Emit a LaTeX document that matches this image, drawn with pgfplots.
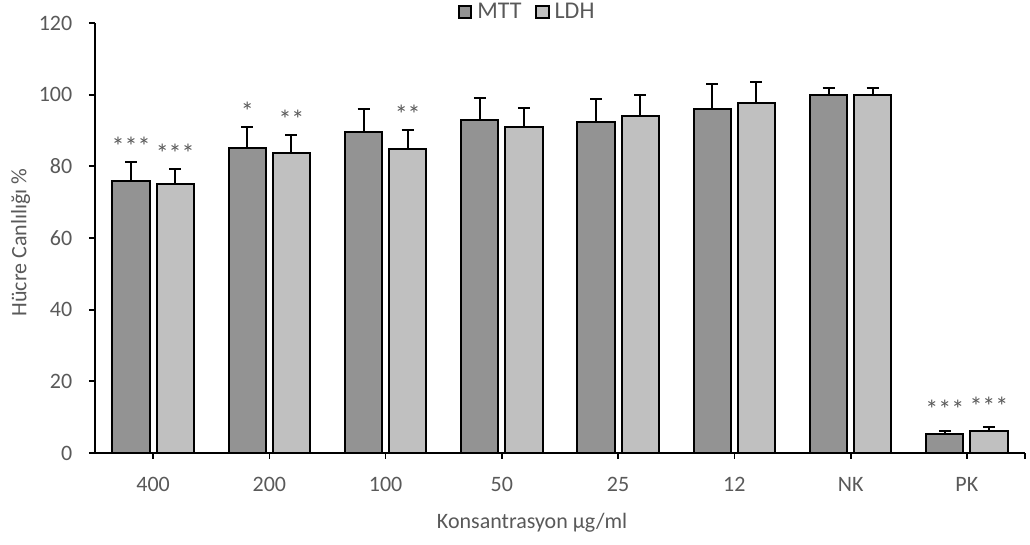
\documentclass[border=0pt]{standalone}
\usepackage{pgfplots}
\pgfplotsset{compat=1.18}
\usepackage{fontspec}
\setmainfont{Carlito}
\definecolor{txt}{HTML}{595959}
\definecolor{mtt}{HTML}{939393}
\definecolor{ldh}{HTML}{C0C0C0}
\begin{document}
\begin{tikzpicture}
\useasboundingbox (-71.25pt,-69pt) rectangle (701.25pt,339.75pt);
\begin{axis}[
 scale only axis, width=697.5pt, height=322.5pt,
 xmin=-0.5, xmax=7.5, ymin=0, ymax=120,
 axis x line=bottom, axis y line=left,
 axis line style={-, line width=1.3pt, black},
 ytick={0,20,...,120},
 xtick={0,1,2,3,4,5,6,7,7.5},
 xticklabels={400,200,100,50,25,12,NK,PK,{}},
 tick align=outside, major tick length=4.5pt,
 tick style={black, line width=1.3pt},
 ticklabel style={font=\fontsize{16.5}{19}\selectfont, text=txt},
 xticklabel style={yshift=-10pt},
 yticklabel style={xshift=-9pt},
 /pgf/number format/assume math mode=true,
 xlabel={Konsantrasyon µg/ml},
 ylabel={Hücre Canlılığı \%},
 every axis x label/.style={at={(axis description cs:0.47,-0.162)}, anchor=center,
   font=\fontsize{16.5}{19}\selectfont, text=txt},
 every axis y label/.style={at={(axis description cs:-0.08,0.49)}, anchor=center, rotate=90,
   font=\fontsize{16.5}{19}\selectfont, text=txt},
 legend style={at={(0.465,1.026)}, anchor=center, draw=none, fill=none,
   legend columns=2, font=\fontsize{18}{20}\selectfont, text=txt,
   /tikz/every even column/.append style={column sep=8pt}},
 legend image code/.code={\draw[#1, line width=1.5pt] (0pt,-4.7pt) rectangle (9.5pt,4.7pt);
   \path[draw=none, fill=none] (0pt,0pt) -- (12pt,0pt);},
]
\addplot[ybar, bar width=0.32, bar shift=0pt, fill=mtt, draw=black, line width=1.5pt,
 error bars/.cd, y dir=plus, y explicit,
 error bar style={line width=1.5pt, black},
 error mark options={rotate=90, mark size=4.5pt, line width=1.5pt, black}]
coordinates {
 (-0.19,76) +- (0,5.3)
 (0.81,85) +- (0,6)
 (1.81,89.6) +- (0,6.3)
 (2.81,92.8) +- (0,6.4)
 (3.81,92.3) +- (0,6.4)
 (4.81,96.1) +- (0,6.8)
 (5.81,99.8) +- (0,2)
 (6.81,5.2) +- (0,1)
};
\addlegendentry{MTT}
\addplot[ybar, bar width=0.32, bar shift=0pt, fill=ldh, draw=black, line width=1.5pt,
 error bars/.cd, y dir=plus, y explicit,
 error bar style={line width=1.5pt, black},
 error mark options={rotate=90, mark size=4.5pt, line width=1.5pt, black}]
coordinates {
 (0.19,75) +- (0,4.3)
 (1.19,83.8) +- (0,5)
 (2.19,84.9) +- (0,5.2)
 (3.19,90.9) +- (0,5.3)
 (4.19,94.1) +- (0,5.7)
 (5.19,97.8) +- (0,5.7)
 (6.19,99.8) +- (0,2)
 (7.19,6.2) +- (0,1)
};
\addlegendentry{LDH}
\addplot[draw=none, forget plot, nodes near coords, point meta=explicit symbolic,
 nodes near coords style={anchor=base, yshift=5pt, text=txt, font=\fontsize{19.5}{21}\selectfont}]
coordinates {
 (-0.19,81.3) [***]
 (0.19,79.3) [***]
 (0.81,91) [*]
 (1.19,88.8) [**]
 (2.19,90.1) [**]
 (6.81,7.9) [***]
 (7.19,8.6) [***]
};
\end{axis}
\end{tikzpicture}
\end{document}
